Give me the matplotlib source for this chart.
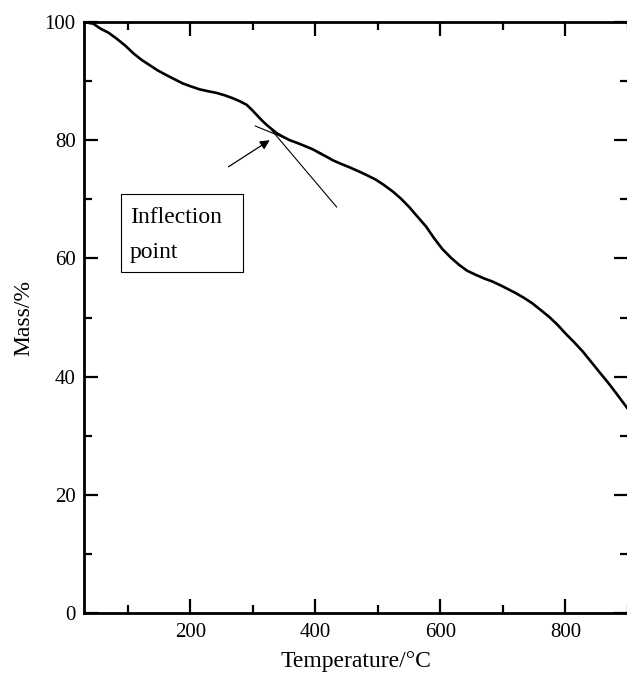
import matplotlib
matplotlib.use("Agg")
import matplotlib.pyplot as plt
from matplotlib.patches import Rectangle
from matplotlib.ticker import MultipleLocator

temperature = [30, 45, 56, 69, 82, 96, 109, 122, 135, 148, 162, 175, 188, 201, 215, 228,
               242, 255, 268, 279, 290, 298, 306, 314, 322, 330, 338, 348, 359, 372,
               386, 397, 407, 418, 428, 441, 455, 470, 484, 497, 510, 524, 537, 550,
               563, 577, 590, 603, 617, 630, 643, 657, 670, 683, 697, 710, 721, 734,
               747, 760, 774, 787, 800, 814, 828, 841, 854, 868, 881, 900]
mass = [100, 99.7, 98.9, 98.2, 97.2, 96.0, 94.7, 93.6, 92.7, 91.8, 91.0, 90.3, 89.6,
        89.1, 88.6, 88.3, 88.0, 87.6, 87.1, 86.6, 86.0, 85.2, 84.3, 83.4, 82.6, 81.9,
        81.2, 80.6, 80.0, 79.5, 78.9, 78.4, 77.8, 77.2, 76.6, 76.0, 75.4, 74.7, 74.0,
        73.3, 72.4, 71.3, 70.1, 68.7, 67.1, 65.4, 63.4, 61.6, 60.1, 58.9, 57.9, 57.2,
        56.6, 56.1, 55.4, 54.7, 54.1, 53.3, 52.4, 51.3, 50.1, 48.8, 47.3, 45.8, 44.2,
        42.5, 40.8, 39.0, 37.2, 34.5]

tangent1_T = [304, 410]
tangent1_M = [82.4, 77.8]
tangent2_T = [330, 434]
tangent2_M = [81.7, 68.7]
arrow_tail = (261, 75.5)
arrow_head = (327, 80.0)
box_T = (89, 285)
box_M = (57.7, 70.9)
label_lines = ["Inflection", "point"]

xticks = [200, 400, 600, 800]
yticks = [0, 20, 40, 60, 80, 100]

plt.rcParams['font.family'] = ['Liberation Serif', 'DejaVu Serif']

fig = plt.figure(figsize=(6.27, 6.73), dpi=100)
ax = fig.add_axes([84/627, 60/673, (628-84)/627, (613-22)/673])

ax.plot(temperature, mass, color='black', lw=1.9, solid_capstyle='butt')
ax.plot(tangent1_T, tangent1_M, color='black', lw=0.8)
ax.plot(tangent2_T, tangent2_M, color='black', lw=0.8)
ax.annotate('', xy=arrow_head, xytext=arrow_tail,
            arrowprops=dict(arrowstyle='-|>', color='black', lw=0.9,
                            mutation_scale=14, shrinkA=0, shrinkB=0))

ax.add_patch(Rectangle((box_T[0], box_M[0]), box_T[1]-box_T[0], box_M[1]-box_M[0],
                       fill=False, edgecolor='black', lw=0.8))
ax.text(103.5, 66.0, label_lines[0], fontsize=17, va='baseline', ha='left')
ax.text(103.5, 60.0, label_lines[1], fontsize=17, va='baseline', ha='left')

ax.set_xlim(30, 900)
ax.set_ylim(0, 100)
ax.set_xticks(xticks)
ax.set_yticks(yticks)
ax.xaxis.set_minor_locator(MultipleLocator(100))
ax.yaxis.set_minor_locator(MultipleLocator(10))
ax.tick_params(which='both', direction='in', top=True, right=True, width=1.6,
               labelsize=15, colors='black')
ax.tick_params(which='major', length=10)
ax.tick_params(axis='x', which='major', pad=7.5)
ax.tick_params(axis='y', which='major', pad=6)
ax.tick_params(which='minor', length=5.5)
for s in ax.spines.values():
    s.set_linewidth(2.0)

ax.set_xlabel('Temperature/°C', fontsize=17, labelpad=6.0)
ax.set_ylabel('Mass/%', fontsize=17, labelpad=7.5)

fig.savefig('out.png', dpi=100)
